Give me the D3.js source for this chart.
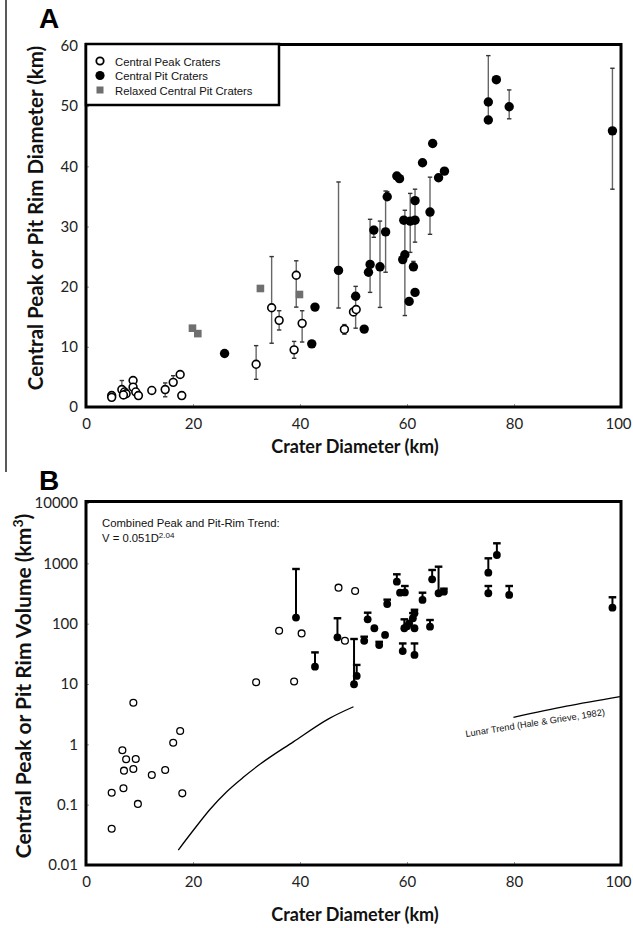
<!DOCTYPE html>
<html>
<head>
<meta charset="utf-8">
<script src="https://cdn.jsdelivr.net/npm/d3@7/dist/d3.min.js"></script>
<style>
body{margin:0;background:#fff;}
text{font-family:Lato,"Liberation Sans",sans-serif;}
</style>
</head>
<body>
<div id="Canvas"></div>
<script>
//---- data ----
//panel A : [crater D, peak/pit diameter, err low, err high]
let peakA = [[4.8,1.9],[4.8,1.6],[6.7,2.9,2.0,4.4],[7.2,2.5],[7.5,2.2],[7.0,2.0],[8.8,4.4],[8.8,3.3],[9.3,2.5],[9.8,1.9],
    [12.3,2.75],[14.8,2.9,1.7,4.0],[16.3,4.1,4.1,5.2],[17.6,5.4],[17.9,1.9],[31.8,7.1,4.6,10.2],[34.7,16.5,10.6,25],
    [36.1,14.4,12.8,16.0],[38.9,9.5,8.1,10.9],[39.3,21.9,16.6,24.3],[40.4,13.9,10.8,16.0],[48.3,12.9,12.1,13.7],[50.0,15.8],[50.5,16.2]]
let pitA = [[25.9,8.9],[42.2,10.5],[42.8,16.6],[47.2,22.7,16.45,37.4],[50.4,18.4,13.1,20.05],[52.0,12.95],[52.8,22.4],
    [53.1,23.7,19.05,31.2],[53.8,29.4,28.2,30.0],[54.95,23.3,16.55,30.9],[56.0,29.1,22.4,35.9],[56.3,34.95,34.95,35.8],
    [58.1,38.4],[58.6,37.95],[59.2,24.5],[59.6,25.3,15.2,32.7],[59.4,31.05],[60.6,30.9,25.7,35.5],[61.5,31.05],
    [61.5,34.3,27.4,36.2],[61.2,23.3,23.3,24.2],[61.5,19.05],[60.4,17.55],[64.3,32.4,28.7,38.2],[62.9,40.6],[64.8,43.8],
    [65.9,38.1],[67.0,39.2],[75.2,50.7,47.7,58.4],[75.2,47.7],[76.7,54.4],[79.1,49.9,47.9,52.7],[98.4,45.9,36.2,56.3]]
let relaxedA = [[19.9,13.1],[20.9,12.2],[32.6,19.7],[39.9,18.7]]
let yTicksA = [0,10,20,30,40,50,60]
let xTicks = [0,20,40,60,80,100]
let legendA = ["Central Peak Craters","Central Pit Craters","Relaxed Central Pit Craters"]

//panel B : [crater D, volume km3, err high]
let peakB = [[4.8,0.158],[4.8,0.040],[6.8,0.80],[7.5,0.565],[7.1,0.366],[7.0,0.187],[8.85,4.9],[8.85,0.39],[9.3,0.57],
    [9.7,0.103],[12.3,0.31],[14.8,0.376],[16.3,1.06],[17.6,1.66],[18.0,0.154],[31.8,10.7],[38.9,11.0],[36.1,76.5],
    [40.3,69],[47.2,395],[50.3,348],[48.4,52]]
let pitB = [[39.25,126,806],[42.8,19.4,33.4],[47.0,59.4,123],[50.1,9.9,55.7],[50.6,13.6,20.7],[52.0,52,60.8],
    [52.65,118,152],[53.9,84],[54.8,44.3,50],[55.9,65],[56.3,212,250],[58.1,497,658],[58.7,326],[59.6,330,421],
    [59.2,35.2,47],[61.4,30.3,47],[59.5,84,118],[60.4,101],[61.1,123,150],[61.4,149,170],[61.4,84],[60.0,91],
    [62.9,247,326],[64.3,89,115],[64.7,544,776],[65.9,319,880],[66.9,339,380],[75.2,700,1211],[76.8,1375,2148],
    [75.2,319,421],[79.1,299,421],[98.4,184,274]]
let lunarD = [17.25,20.1,23.2,26.3,29.4,32.5,38.75,45.5,50]
let lunarV = [0.0177,0.038,0.084,0.164,0.284,0.466,1.1,2.7,4.2]
let lunar2D = [79.9,89.8,99.8]
let lunar2V = [2.8,4.3,6.2]
let yTicksB = [0.01,0.1,1,10,100,1000,10000]

//創建svg
let svg = d3.select("#Canvas")
    .append("svg")
    .attr("width",633)
    .attr("height",928)

//scales
let xA = d3.scaleLinear().domain([0,100]).range([86,621])
let yA = d3.scaleLinear().domain([0,60]).range([407,46])
let xB = d3.scaleLinear().domain([0,100]).range([86,621])
let yB = d3.scaleLog().domain([0.01,10000]).range([865,503])

//thin rule on far left of panel A
svg.append("line").attr("x1",6).attr("x2",6).attr("y1",0).attr("y2",472)
    .style("stroke","#222").style("stroke-width",1.5)

//axes (tick labels) for one panel
function drawAxes(xs, ys, yTicks, yFmt){
    let gx = svg.append("g")
        .attr("transform","translate(0," + ys.range()[0] + ")")
        .call(d3.axisBottom(xs).tickValues(xTicks).tickSize(-3).tickPadding(11))
    let gy = svg.append("g")
        .attr("transform","translate(" + xs.range()[0] + ",0)")
        .call(d3.axisLeft(ys).tickValues(yTicks).tickFormat(yFmt).tickSize(-3).tickPadding(8))
    ;[gx,gy].forEach(g=>{
        g.select(".domain").remove()
        g.selectAll("line").style("stroke","#999")
        g.selectAll("text").style("font-size","15px").style("fill","#222").style("font-family","Lato")
    })
    //last x label sits at the page edge, nudge it in a little
    gx.selectAll("text").filter(d=>d == 100).attr("dx",-3)
    //frame
    svg.append("rect")
        .attr("x",xs.range()[0]).attr("y",ys.range()[1] - 1.5)
        .attr("width",xs.range()[1]-xs.range()[0]).attr("height",ys.range()[0]-ys.range()[1] + 1.5)
        .style("fill","none").style("stroke","#000").style("stroke-width",3)
}

//================ Panel A ================
drawAxes(xA, yA, yTicksA, d3.format("d"))

//error bars (gray, with caps)
let errA = peakA.concat(pitA).filter(d=>d.length > 2)
let gErrA = svg.append("g").style("stroke","#666").style("stroke-width",1.4)
errA.forEach(d=>{
    gErrA.append("line").attr("x1",xA(d[0])).attr("x2",xA(d[0])).attr("y1",yA(d[2])).attr("y2",yA(d[3]))
    ;[d[2],d[3]].forEach(v=>{
        if(v == d[1]) return
        gErrA.append("line").attr("x1",xA(d[0])-2.2).attr("x2",xA(d[0])+2.2).attr("y1",yA(v)).attr("y2",yA(v))
            .style("stroke","#333")
    })
})

svg.append("g")
    .selectAll("rect")
    .data(relaxedA)
    .enter()
    .append("rect")
    .attr("x",d=>xA(d[0])-3.8)
    .attr("y",d=>yA(d[1])-3.8)
    .attr("width",7.6)
    .attr("height",7.6)
    .style("fill","#6f6f6f")

svg.append("g")
    .selectAll("circle")
    .data(pitA)
    .enter()
    .append("circle")
    .attr("cx",d=>xA(d[0]))
    .attr("cy",d=>yA(d[1]))
    .attr("r",4.7)
    .style("fill","#000")

svg.append("g")
    .selectAll("circle")
    .data(peakA)
    .enter()
    .append("circle")
    .attr("cx",d=>xA(d[0]))
    .attr("cy",d=>yA(d[1]))
    .attr("r",3.9)
    .style("fill","#fff")
    .style("stroke","#000")
    .style("stroke-width",1.6)

//legend
let lg = svg.append("g")
lg.append("rect").attr("x",86).attr("y",44).attr("width",193).attr("height",61)
    .style("fill","#fff").style("stroke","#000").style("stroke-width",2.5)
lg.append("circle").attr("cx",100).attr("cy",61).attr("r",3.7)
    .style("fill","#fff").style("stroke","#000").style("stroke-width",1.8)
lg.append("circle").attr("cx",100).attr("cy",75.5).attr("r",4.6).style("fill","#000")
lg.append("rect").attr("x",96.5).attr("y",86.5).attr("width",7).attr("height",7).style("fill","#6f6f6f")
legendA.forEach((t,i)=>{
    lg.append("text").attr("x",115).attr("y",65.5 + i*14.6).text(t)
        .style("font-family","Liberation Sans").style("font-size","11.3px").style("fill","#111")
})

//titles
svg.append("text").attr("x",39).attr("y",28).text("A")
    .style("font-family","Liberation Sans").style("font-weight","bold").style("font-size","28px")
svg.append("text").attr("transform","translate(43,218) rotate(-90)").attr("text-anchor","middle")
    .text("Central Peak or Pit Rim Diameter (km)")
    .style("font-weight","bold").style("font-size","20.5px").style("fill","#111")
svg.append("text").attr("x",355).attr("y",453).attr("text-anchor","middle").text("Crater Diameter (km)")
    .style("font-weight","bold").style("font-size","18px").style("fill","#111")

//================ Panel B ================
drawAxes(xB, yB, yTicksB, d=>d3.format("~g")(d))
svg.selectAll("text").filter(function(){ return this.textContent == "1e+4" }).text("10000")

//lunar trend curves
let lunarLine = d3.line().x(d=>xB(d[0])).y(d=>yB(d[1])).curve(d3.curveMonotoneX)
svg.append("path").datum(lunarD.map((d,i)=>[d,lunarV[i]])).attr("d",lunarLine)
    .style("fill","none").style("stroke","#000").style("stroke-width",1.3)
svg.append("path").datum(lunar2D.map((d,i)=>[d,lunar2V[i]])).attr("d",lunarLine)
    .style("fill","none").style("stroke","#000").style("stroke-width",1.3)
svg.append("text").attr("transform","translate(466,737) rotate(-9)")
    .text("Lunar Trend (Hale & Grieve, 1982)")
    .style("font-family","Liberation Sans").style("font-size","9.2px").style("fill","#111")

//upper error bars (black T)
let gErrB = svg.append("g").style("stroke","#000")
pitB.filter(d=>d.length > 2).forEach(d=>{
    gErrB.append("line").attr("x1",xB(d[0])).attr("x2",xB(d[0])).attr("y1",yB(d[1])).attr("y2",yB(d[2]))
        .style("stroke-width",2)
    gErrB.append("line").attr("x1",xB(d[0])-3.8).attr("x2",xB(d[0])+3.8).attr("y1",yB(d[2])).attr("y2",yB(d[2]))
        .style("stroke-width",2.4)
})

svg.append("g")
    .selectAll("circle")
    .data(pitB)
    .enter()
    .append("circle")
    .attr("cx",d=>xB(d[0]))
    .attr("cy",d=>yB(d[1]))
    .attr("r",3.9)
    .style("fill","#000")

svg.append("g")
    .selectAll("circle")
    .data(peakB)
    .enter()
    .append("circle")
    .attr("cx",d=>xB(d[0]))
    .attr("cy",d=>yB(d[1]))
    .attr("r",3.4)
    .style("fill","#fff")
    .style("stroke","#000")
    .style("stroke-width",1.3)

//trend annotation
svg.append("text").attr("x",102).attr("y",527).text("Combined Peak and Pit-Rim Trend:")
    .style("font-family","Liberation Sans").style("font-size","11.3px").style("fill","#111")
let eq = svg.append("text").attr("x",102).attr("y",542)
    .style("font-family","Liberation Sans").style("font-size","11.3px").style("fill","#111")
eq.append("tspan").text("V = 0.051D")
eq.append("tspan").attr("dy",-4).style("font-size","8px").text("2.04")

svg.append("text").attr("x",39).attr("y",490).text("B")
    .style("font-family","Liberation Sans").style("font-weight","bold").style("font-size","28px")
let yt = svg.append("text").attr("transform","translate(31,686) rotate(-90)").attr("text-anchor","middle")
    .style("font-weight","bold").style("font-size","21px").style("fill","#111")
yt.append("tspan").text("Central Peak or Pit Rim Volume (km")
yt.append("tspan").attr("dy",-8).style("font-size","14px").text("3")
yt.append("tspan").attr("dy",8).text(")")
svg.append("text").attr("x",355).attr("y",921).attr("text-anchor","middle").text("Crater Diameter (km)")
    .style("font-weight","bold").style("font-size","18px").style("fill","#111")
</script>
</body>
</html>
